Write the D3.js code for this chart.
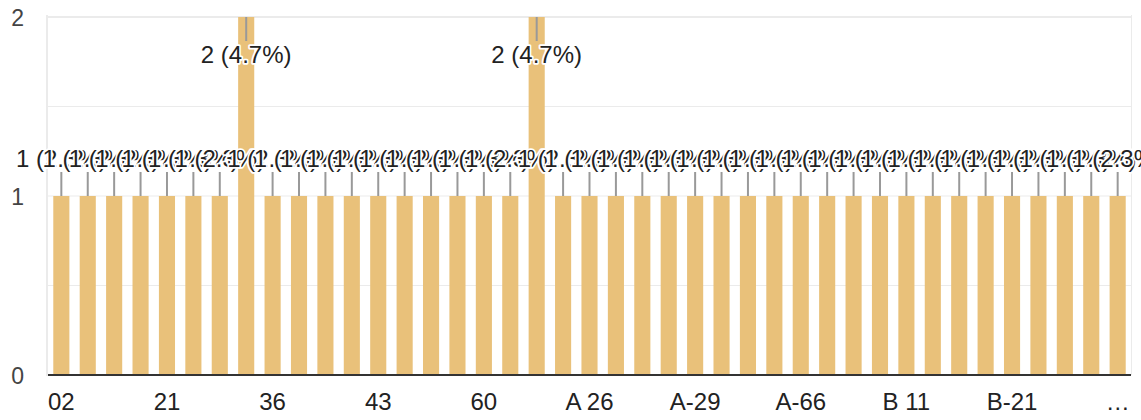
<!DOCTYPE html>
<html>
<head>
<meta charset="utf-8">
<script src="https://cdn.jsdelivr.net/npm/d3@7"></script>
<style>
  html, body { margin: 0; padding: 0; background: #fff; }
  svg { display: block; font-family: "Liberation Sans", Arial, sans-serif; }
</style>
</head>
<body>
<div id="viz"></div>
<script>
// answers (only every 4th one is readable on the axis, the rest are guesses)
const categories = [
  '02', '05', '09', '14', '21', '27', '31', '35', '36', '38',
  '40', '41', '43', '47', '52', '57', '60', '66', '70', '88',
  'A 26', 'A 42', 'A 5', 'A-14', 'A-29', 'A-33', 'A-41', 'A-55', 'A-66', 'A-71',
  'A-8', 'B 04', 'B 11', 'B 17', 'B-02', 'B-15', 'B-21', 'B-34', 'B-40', 'B-55',
  'C-0 and another long answer'
];
const counts = [
  1, 1, 1, 1, 1, 1, 1, 2, 1, 1,
  1, 1, 1, 1, 1, 1, 1, 1, 2, 1,
  1, 1, 1, 1, 1, 1, 1, 1, 1, 1,
  1, 1, 1, 1, 1, 1, 1, 1, 1, 1,
  1
];
const tickLabels = ['02', '21', '36', '43', '60', 'A 26', 'A-29', 'A-66', 'B 11', 'B-21', '…'];
const yTicks = [0, 1, 2];
const gridValues = [0, 0.5, 1, 1.5, 2];

const W = 1141, H = 420;
const area = {left: 48, right: 1131, top: 17, bottom: 375};
const barColor = '#e9c17a';
const font = '"Liberation Sans", Arial, sans-serif';
const total = d3.sum(counts);

const svg = d3.select('#viz').append('svg')
  .attr('width', W)
  .attr('height', H);

const x = d3.scaleBand()
  .domain(categories)
  .range([area.left, area.right])
  .paddingInner(0.39)
  .paddingOuter(0.2);

const y = d3.scaleLinear()
  .domain([0, 2])
  .range([area.bottom, area.top]);

// grid
svg.append('g')
  .selectAll('line')
  .data(gridValues)
  .join('line')
  .attr('x1', area.left)
  .attr('x2', area.right)
  .attr('y1', d => y(d))
  .attr('y2', d => y(d))
  .attr('stroke', '#ebebeb')
  .attr('stroke-width', d => d === 2 ? 2 : 1);

svg.append('line')
  .attr('x1', area.left - 1).attr('x2', area.left - 1)
  .attr('y1', area.top - 2).attr('y2', area.bottom + 1)
  .attr('stroke', '#ebebeb').attr('stroke-width', 2);
svg.append('line')
  .attr('x1', area.right + 0.5).attr('x2', area.right + 0.5)
  .attr('y1', area.top - 2).attr('y2', area.bottom)
  .attr('stroke', '#ebebeb').attr('stroke-width', 1);

// y axis
const yAxis = svg.append('g')
  .attr('transform', `translate(24,0)`)
  .call(d3.axisLeft(y).tickValues(yTicks).tickFormat(d3.format('d')).tickSize(0).tickPadding(0))
  .attr('font-family', font)
  .attr('font-size', 23);
yAxis.select('.domain').remove();
yAxis.selectAll('text')
  .attr('fill', '#444')
  .attr('dy', '0.36em');

// bars
svg.append('g')
  .selectAll('rect')
  .data(categories)
  .join('rect')
  .attr('x', d => x(d))
  .attr('width', x.bandwidth())
  .attr('y', (d, i) => y(counts[i]))
  .attr('height', (d, i) => y(0) - y(counts[i]) - 1)
  .attr('fill', barColor);

// baseline
svg.append('line')
  .attr('x1', area.left)
  .attr('x2', area.right)
  .attr('y1', y(0))
  .attr('y2', y(0))
  .attr('stroke', '#333')
  .attr('stroke-width', 2);

// x axis
const xAxis = svg.append('g')
  .attr('transform', `translate(0,${area.bottom})`)
  .call(d3.axisBottom(x)
    .tickValues(categories.filter((d, i) => i % 4 === 0))
    .tickFormat((d, i) => tickLabels[i])
    .tickSize(0)
    .tickPadding(0))
  .attr('font-family', font)
  .attr('font-size', 24);
xAxis.select('.domain').remove();
xAxis.selectAll('text')
  .attr('fill', '#222')
  .attr('dy', null)
  .attr('y', 35);

// annotations: stem + label with white aura
const stemLen = 24;
const fontSize = 24;
const notes = svg.append('g');
categories.forEach((c, i) => {
  const cx = x(c) + x.bandwidth() / 2;
  const top = y(counts[i]);
  const flip = top - stemLen - fontSize < area.top;
  const stemEnd = flip ? top + stemLen : top - stemLen;
  notes.append('line')
    .attr('x1', cx).attr('x2', cx)
    .attr('y1', top).attr('y2', stemEnd)
    .attr('stroke', '#999')
    .attr('stroke-width', 2);
  const label = `${counts[i]} (${d3.format('.1f')(counts[i] / total * 100)}%)`;
  notes.append('text')
    .attr('x', cx)
    .attr('y', flip ? stemEnd + 22 : stemEnd - 5)
    .attr('text-anchor', 'middle')
    .style('font-size', fontSize + 'px')
    .attr('fill', '#222')
    .attr('stroke', '#fff')
    .attr('stroke-width', 3.5)
    .attr('stroke-linejoin', 'round')
    .attr('paint-order', 'stroke')
    .text(label);
});
</script>
</body>
</html>
